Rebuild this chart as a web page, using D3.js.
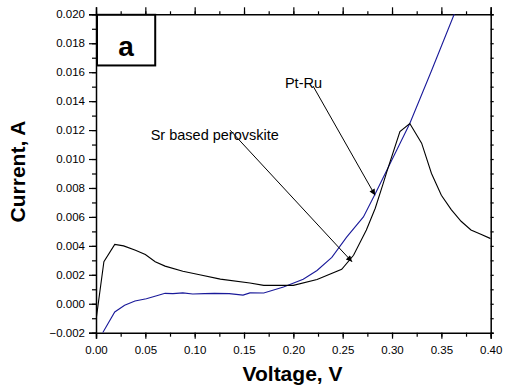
<!DOCTYPE html>
<html>
<head>
<meta charset="utf-8">
<script src="https://cdn.jsdelivr.net/npm/d3@7"></script>
<style>
  html, body { margin: 0; padding: 0; background: #fff; }
  text { font-family: "Liberation Sans", Arial, sans-serif; }
</style>
</head>
<body>
<div id="chart"></div>
<script>
// Sr based perovskite (black)
const srVoltage = [0, 0.008, 0.019, 0.028, 0.04, 0.05, 0.06, 0.07, 0.088, 0.105, 0.126, 0.156, 0.17, 0.2, 0.224, 0.249, 0.261, 0.274, 0.283, 0.291, 0.2946, 0.308, 0.318, 0.33, 0.34, 0.35, 0.36, 0.37, 0.38, 0.39, 0.4];
const srCurrent = [-0.00115, 0.0029, 0.0041, 0.004, 0.0037, 0.0034, 0.0029, 0.0026, 0.00224, 0.002, 0.0017, 0.00143, 0.00127, 0.00127, 0.00167, 0.00238, 0.00335, 0.0051, 0.0066, 0.0083, 0.0091, 0.0119, 0.01245, 0.0111, 0.009, 0.0075, 0.0065, 0.0057, 0.0051, 0.0048, 0.0045];

// Pt-Ru (blue)
const ptVoltage = [0.0068, 0.019, 0.029, 0.0395, 0.051, 0.0615, 0.07, 0.078, 0.088, 0.098, 0.11, 0.12, 0.135, 0.149, 0.156, 0.17, 0.19, 0.21, 0.224, 0.239, 0.254, 0.271, 0.283, 0.2946, 0.318, 0.34, 0.363, 0.37];
const ptCurrent = [-0.002, -0.00057, -0.0001, 0.00019, 0.00035, 0.00055, 0.00072, 0.0007, 0.00075, 0.00067, 0.0007, 0.00072, 0.0007, 0.0006, 0.00075, 0.00074, 0.00116, 0.0017, 0.0023, 0.0032, 0.0046, 0.006, 0.0076, 0.0092, 0.01245, 0.0161, 0.02, 0.0212];

// tick labels
const xTicks = [0, 0.05, 0.1, 0.15, 0.2, 0.25, 0.3, 0.35, 0.4];
const yTicks = [-0.002, 0, 0.002, 0.004, 0.006, 0.008, 0.01, 0.012, 0.014, 0.016, 0.018, 0.02];

// annotations: [label, text V, text I, arrow from V, from I, arrow to V, to I]
const notes = [
  ["Pt-Ru", 0.1915, 0.0149, 0.22, 0.01504, 0.2828, 0.0075],
  ["Sr based perovskite", 0.0554, 0.0113, 0.1358, 0.012, 0.2595, 0.0029]
];

const W = 505, H = 391;
const margin = { top: 14.3, right: 14.3, bottom: 58.3, left: 96 };
const width = W - margin.left - margin.right;
const height = H - margin.top - margin.bottom;

const svg = d3.select("#chart").append("svg")
  .attr("width", W).attr("height", H);

const defs = svg.append("defs");
defs.append("clipPath").attr("id", "clip")
  .append("rect").attr("width", width).attr("height", height);
defs.append("marker")
  .attr("id", "arrow")
  .attr("viewBox", "0 0 10 10")
  .attr("refX", 10).attr("refY", 5)
  .attr("markerWidth", 9).attr("markerHeight", 6)
  .attr("markerUnits", "userSpaceOnUse")
  .attr("orient", "auto")
  .append("path").attr("d", "M0,0L10,5L0,10z").attr("fill", "#000");

const g = svg.append("g").attr("transform", `translate(${margin.left},${margin.top})`);

const x = d3.scaleLinear().domain([0, 0.4]).range([0, width]);
const y = d3.scaleLinear().domain([-0.002, 0.02]).range([height, 0]);

const xMinor = d3.range(0, 0.4001, 0.025).map(d => +d.toFixed(3));
const yMinor = d3.range(-0.002, 0.02001, 0.001).map(d => +d.toFixed(3));

// bottom axis
g.append("g").attr("transform", `translate(0,${height})`)
  .call(d3.axisBottom(x).tickValues(xMinor).tickSize(4).tickFormat(""))
  .call(a => a.select(".domain").remove());
g.append("g").attr("transform", `translate(0,${height})`)
  .call(d3.axisBottom(x).tickValues(xTicks).tickSize(6).tickPadding(7).tickFormat(d3.format(".2f")))
  .call(a => a.selectAll("text").attr("font-size", 11.5).attr("fill", "#000"));

// left axis
g.append("g")
  .call(d3.axisLeft(y).tickValues(yMinor).tickSize(4).tickFormat(""))
  .call(a => a.select(".domain").remove());
g.append("g")
  .call(d3.axisLeft(y).tickValues(yTicks).tickSize(7).tickPadding(4).tickFormat(d3.format(".3f")))
  .call(a => a.selectAll("text").attr("font-size", 11.5).attr("fill", "#000"));

// top axis
g.append("g")
  .call(d3.axisTop(x).tickValues(xMinor).tickSize(3).tickFormat(""))
  .call(a => a.select(".domain").remove());
g.append("g")
  .call(d3.axisTop(x).tickValues(xTicks).tickSize(7).tickFormat(""));

// right axis
g.append("g").attr("transform", `translate(${width},0)`)
  .call(d3.axisRight(y).tickValues(yMinor).tickSize(3).tickFormat(""));

g.selectAll(".domain").attr("stroke-width", 1.5).attr("stroke", "#000");
g.selectAll(".tick line").attr("stroke", "#000").attr("stroke-width", 1.2);

// curves
const line = d3.line().x(d => x(d[0])).y(d => y(d[1]));
const plot = g.append("g").attr("clip-path", "url(#clip)");
plot.append("path")
  .datum(ptVoltage.map((v, i) => [v, ptCurrent[i]]))
  .attr("d", line).attr("fill", "none")
  .attr("stroke", "#1a1a9a").attr("stroke-width", 1.1);
plot.append("path")
  .datum(srVoltage.map((v, i) => [v, srCurrent[i]]))
  .attr("d", line).attr("fill", "none")
  .attr("stroke", "#000").attr("stroke-width", 1.1);

// annotations
notes.forEach(n => {
  g.append("line")
    .attr("x1", x(n[3])).attr("y1", y(n[4]))
    .attr("x2", x(n[5])).attr("y2", y(n[6]))
    .attr("stroke", "#000").attr("stroke-width", 1)
    .attr("marker-end", "url(#arrow)");
  g.append("text")
    .attr("x", x(n[1])).attr("y", y(n[2]))
    .attr("font-size", 14.5)
    .text(n[0]);
});

// panel label box
g.append("rect")
  .attr("x", x(0) + 1).attr("y", y(0.02) + 0.5)
  .attr("width", x(0.059) - x(0)).attr("height", y(0.0165) - y(0.02))
  .attr("fill", "#fff").attr("stroke", "#000").attr("stroke-width", 2);
g.append("text")
  .attr("x", x(0.0295) + 1).attr("y", y(0.0171))
  .attr("text-anchor", "middle")
  .attr("font-size", 28).attr("font-weight", "bold")
  .text("a");

// axis titles
svg.append("text")
  .attr("x", 292.5).attr("y", 380.5)
  .attr("text-anchor", "middle")
  .attr("font-size", 21).attr("font-weight", "bold")
  .text("Voltage, V");
svg.append("text")
  .attr("transform", `translate(25,171.5) rotate(-90)`)
  .attr("text-anchor", "middle")
  .attr("font-size", 21).attr("font-weight", "bold")
  .text("Current, A");
</script>
</body>
</html>
